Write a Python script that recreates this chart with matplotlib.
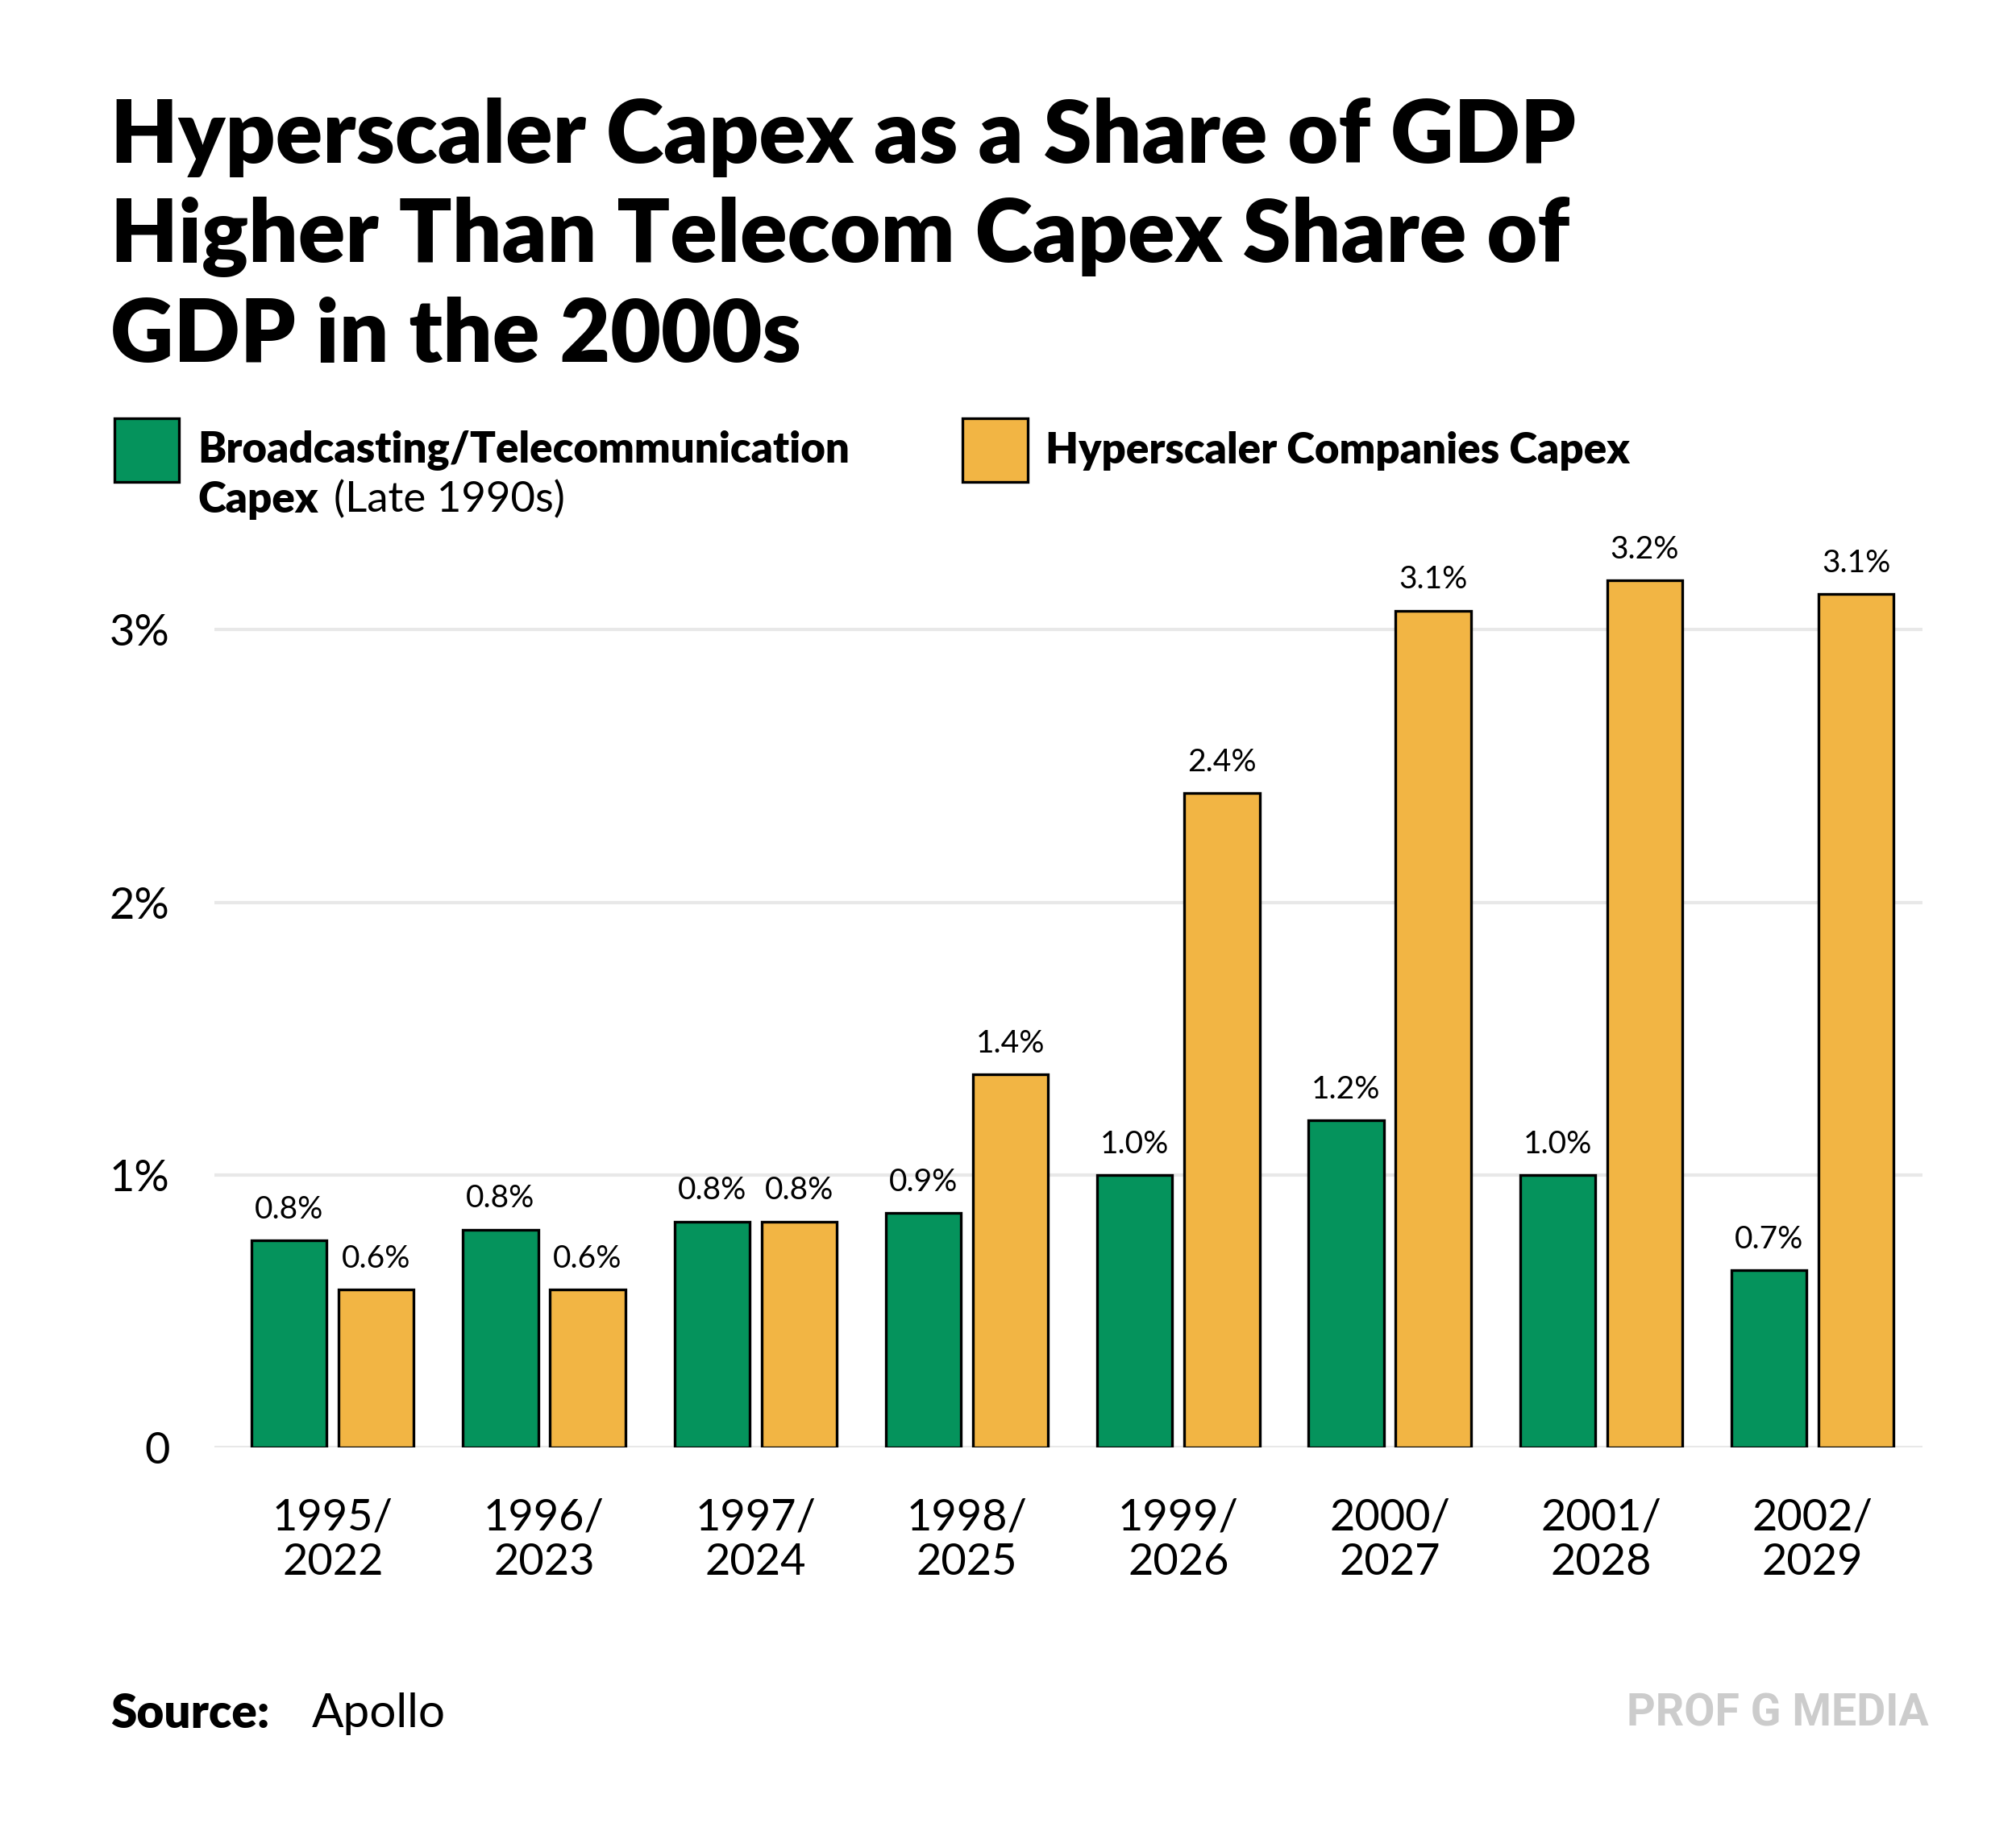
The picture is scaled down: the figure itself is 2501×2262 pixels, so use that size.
import matplotlib.pyplot as plt
from matplotlib.patches import Rectangle

plt.rcParams['font.family'] = ['Lato', 'DejaVu Sans']

periods = ['1995/\n2022', '1996/\n2023', '1997/\n2024', '1998/\n2025',
           '1999/\n2026', '2000/\n2027', '2001/\n2028', '2002/\n2029']
telecom = [0.76, 0.80, 0.83, 0.86, 1.00, 1.20, 1.00, 0.65]
hyper = [0.58, 0.58, 0.83, 1.37, 2.40, 3.07, 3.18, 3.13]
telecom_labels = ['0.8%', '0.8%', '0.8%', '0.9%', '1.0%', '1.2%', '1.0%', '0.7%']
hyper_labels = ['0.6%', '0.6%', '0.8%', '1.4%', '2.4%', '3.1%', '3.2%', '3.1%']

GREEN = '#05935c'
YELLOW = '#f2b544'

W, H = 1552, 1404  # reference layout units
fig = plt.figure(figsize=(25.01, 22.62), dpi=100)
ax = fig.add_axes([165 / W, 1 - 1115 / H, (1480 - 165) / W, 693 / H])

x = list(range(len(periods)))
bw = 0.356
off = 0.206
ax.bar([i - off for i in x], telecom, bw, color=GREEN, edgecolor='black', linewidth=2.4, zorder=3)
ax.bar([i + off for i in x], hyper, bw, color=YELLOW, edgecolor='black', linewidth=2.4, zorder=3)
for i in x:
    ax.text(i - off, telecom[i] + 0.06, telecom_labels[i], ha='center', va='bottom', fontsize=28)
    ax.text(i + off, hyper[i] + 0.06, hyper_labels[i], ha='center', va='bottom', fontsize=28)

ax.set_xlim(-0.56, 7.52)
ax.set_ylim(0, 3.3)
ax.set_yticks([0, 1, 2, 3])
ax.set_yticklabels(['0', '1%', '2%', '3%'])
ax.set_xticks(x)
ax.set_xticklabels(periods, linespacing=1.15)
ax.tick_params(axis='both', length=0, labelsize=39)
ax.tick_params(axis='x', pad=45)
ax.tick_params(axis='y', pad=40)
ax.grid(axis='y', color='#e8e8e8', linewidth=3, zorder=0)
for s in ax.spines.values():
    s.set_visible(False)

fig.text(85 / W, 1 - 75 / H,
         'Hyperscaler Capex as a Share of GDP\nHigher Than Telecom Capex Share of\nGDP in the 2000s',
         fontsize=78, fontweight='heavy', va='top', ha='left', linespacing=1.3)

# legend
for lx, col in [(88, GREEN), (741, YELLOW)]:
    fig.patches.append(Rectangle((lx / W, 1 - 371 / H), 50 / W, 49 / H, transform=fig.transFigure,
                                 facecolor=col, edgecolor='black', linewidth=2.4))
fig.text(152 / W, 1 - 347 / H, 'Broadcasting/Telecommunication', fontsize=38, fontweight='heavy', va='center')
fig.text(152 / W, 1 - 385 / H, 'Capex', fontsize=38, fontweight='heavy', va='center')
fig.text(257 / W, 1 - 385 / H, '(Late 1990s)', fontsize=38, va='center')
fig.text(805 / W, 1 - 347 / H, 'Hyperscaler Companies Capex', fontsize=38, fontweight='heavy', va='center')

fig.text(85 / W, 1 - 1320 / H, 'Source:', fontsize=42, fontweight='heavy', va='center')
fig.text(240 / W, 1 - 1320 / H, 'Apollo', fontsize=42, va='center')
fig.text(1485 / W, 1 - 1320 / H, 'PROF G MEDIA', fontsize=40, fontweight='bold', color='#cccccc',
         va='center', ha='right', family='Roboto')

fig.savefig('out.png', dpi=100, facecolor='white')
